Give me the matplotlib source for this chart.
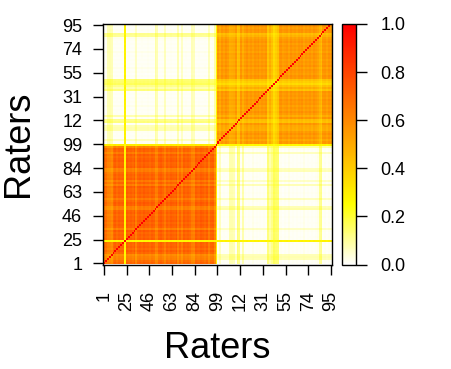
import numpy as np
import matplotlib
matplotlib.use("Agg")
import matplotlib.pyplot as plt
from matplotlib.colors import LinearSegmentedColormap

plt.rcParams['font.family'] = ['Liberation Sans', 'DejaVu Sans']

# Per-rater loadings (group A = first 60 cells, group B = next 60)
ownA = [0.83, 0.80, 0.74, 0.73, 0.70, 0.82, 0.86, 0.81, 0.85, 0.83,
        0.84, 0.32, 0.86, 0.83, 0.85, 0.82, 0.87, 0.74, 0.84, 0.86,
        0.83, 0.87, 0.84, 0.85, 0.82, 0.86, 0.84, 0.74, 0.75, 0.85,
        0.87, 0.83, 0.76, 0.85, 0.82, 0.86, 0.84, 0.83, 0.87, 0.75,
        0.84, 0.76, 0.86, 0.83, 0.85, 0.82, 0.75, 0.74, 0.86, 0.84,
        0.83, 0.87, 0.85, 0.82, 0.86, 0.76, 0.84, 0.85, 0.72, 0.36]
crossA = [0.005, 0.01, 0.09, 0.10, 0.09, 0.005, 0.005, 0.01, 0.005, 0.005,
          0.01, 0.38, 0.005, 0.01, 0.005, 0.005, 0.01, 0.07, 0.005, 0.005,
          0.01, 0.005, 0.005, 0.01, 0.005, 0.005, 0.005, 0.11, 0.09, 0.005,
          0.005, 0.01, 0.08, 0.005, 0.005, 0.01, 0.005, 0.005, 0.005, 0.09,
          0.005, 0.07, 0.005, 0.01, 0.005, 0.005, 0.09, 0.08, 0.005, 0.005,
          0.01, 0.005, 0.005, 0.01, 0.005, 0.08, 0.005, 0.01, 0.11, 0.36]
ownB = [0.74, 0.68, 0.76, 0.72, 0.77, 0.73, 0.66, 0.67, 0.68, 0.75,
        0.58, 0.60, 0.76, 0.66, 0.73, 0.77, 0.72, 0.75, 0.71, 0.76,
        0.74, 0.77, 0.72, 0.75, 0.73, 0.76, 0.57, 0.66, 0.58, 0.48,
        0.53, 0.58, 0.75, 0.77, 0.72, 0.74, 0.76, 0.71, 0.77, 0.73,
        0.75, 0.72, 0.76, 0.74, 0.77, 0.71, 0.75, 0.73, 0.76, 0.72,
        0.77, 0.74, 0.71, 0.64, 0.60, 0.75, 0.76, 0.72, 0.77, 0.74]
crossB = [0.01, 0.07, 0.005, 0.01, 0.005, 0.01, 0.09, 0.09, 0.08, 0.005,
          0.15, 0.13, 0.005, 0.09, 0.01, 0.005, 0.01, 0.005, 0.02, 0.005,
          0.01, 0.005, 0.01, 0.005, 0.01, 0.005, 0.15, 0.09, 0.13, 0.19,
          0.17, 0.16, 0.005, 0.01, 0.005, 0.01, 0.005, 0.02, 0.005, 0.01,
          0.005, 0.01, 0.005, 0.01, 0.005, 0.02, 0.005, 0.01, 0.005, 0.01,
          0.005, 0.01, 0.02, 0.12, 0.13, 0.005, 0.01, 0.005, 0.01, 0.005]

tick_labels = ["1", "25", "46", "63", "84", "99", "12", "31", "55", "74", "95"]
cbar_ticks = [0.0, 0.2, 0.4, 0.6, 0.8, 1.0]

# Correlation matrix from the two-factor loadings
fA = np.array(ownA + crossB)
fB = np.array(crossA + ownB)
M = np.outer(fA, fA) + np.outer(fB, fB)
np.fill_diagonal(M, 1.0)
M = np.clip(M, 0, 1)
n = M.shape[0]

cmap = LinearSegmentedColormap.from_list(
    "heat", [(0.0, "#FFFFFF"), (0.25, "#FFFF00"), (1.0, "#FF0000")])

W, H = 452, 369
fig = plt.figure(figsize=(W / 100, H / 100), dpi=100)
ax = fig.add_axes([103 / W, (H - 264.5) / H, (332 - 103) / W, (264.5 - 24) / H])
im = ax.imshow(M, origin="lower", aspect="auto", cmap=cmap, vmin=0, vmax=1,
               interpolation="nearest")
pos = np.linspace(0, n - 1, len(tick_labels))
ax.set_xticks(pos)
ax.set_xticklabels(tick_labels, rotation=90, fontsize=13)
ax.set_yticks(pos)
ax.set_yticklabels(tick_labels, fontsize=13)
ax.tick_params(axis="x", length=7, width=1, pad=12)
ax.tick_params(axis="y", length=7, width=1, pad=8)
for s in ax.spines.values():
    s.set_linewidth(1)
ax.set_xlabel("Raters", fontsize=26, labelpad=14)
ax.set_ylabel("Raters", fontsize=26, labelpad=19)

cax = fig.add_axes([341.5 / W, (H - 264.5) / H, 14 / W, (264.5 - 24) / H])
cb = fig.colorbar(im, cax=cax, ticks=cbar_ticks)
cb.ax.set_yticklabels([f"{t:.1f}" for t in cbar_ticks], fontsize=13)
cb.ax.tick_params(length=8, width=1, pad=10)
cb.outline.set_linewidth(1)

fig.savefig("out.png", dpi=100)
